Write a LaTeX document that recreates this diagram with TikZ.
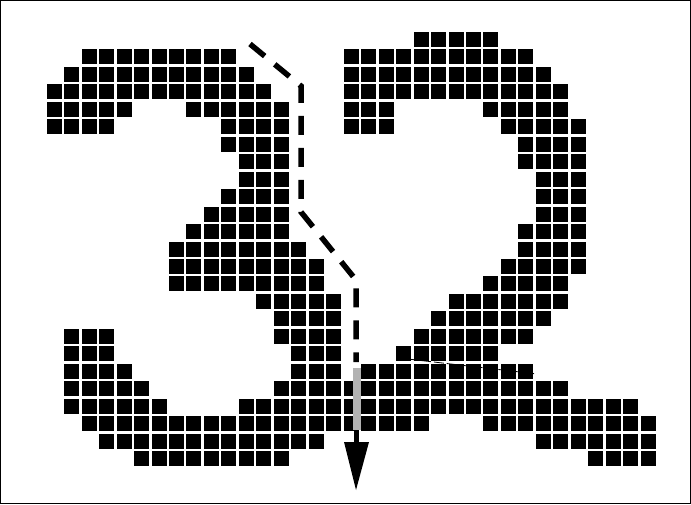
\documentclass[tikz,border=0pt]{standalone}
\begin{document}
\begin{tikzpicture}[x=1pt,y=-1pt,
  cellbox/.style={fill=black},
  cutpath/.style={draw=black,line width=5.5pt,dash pattern=on 19pt off 13pt,miter limit=10},
  greybar/.style={fill=black!30},
  thinline/.style={draw=black,line width=0.8pt,dash pattern=on 10pt off 3pt}]
\useasboundingbox (0,0) rectangle (691,504);
\draw[line width=1pt] (0.5,0.5) rectangle (690.5,503.5);
% pixel cells: row/first column/last column
\foreach \r/\a/\b in {
 1/2/10, 2/1/11, 3/0/12, 4/0/4, 4/8/13, 5/0/3, 5/10/13, 6/10/13, 7/11/13, 8/11/13,
 9/10/13, 10/9/13, 11/8/13, 12/7/14, 13/7/15, 14/7/15, 15/12/16, 16/13/16,
 17/1/3, 17/13/16, 18/1/3, 18/14/16, 19/1/4, 19/14/16, 20/1/5, 20/13/29,
 21/1/6, 21/11/33, 22/2/21, 22/25/34, 23/3/15, 23/28/34, 24/5/13, 24/31/34,
 0/21/25, 1/17/27, 2/17/28, 3/17/29, 4/17/19, 4/25/29, 5/17/19, 5/26/30,
 6/27/30, 7/27/30, 8/28/30, 9/28/30, 10/28/30, 11/27/30, 12/27/30, 13/26/30,
 14/25/29, 15/23/29, 16/22/28, 17/21/27, 18/20/25, 19/18/27}{
  \foreach \c in {\a,...,\b}{
    \fill[cellbox] ({46.7+17.47*\c},{32+17.46*\r}) rectangle ++(15,15);
  }
}
% thin line across the 2
\coordinate (t1) at (408,359);
\coordinate (t2) at (537,374);
\draw[thinline] (t1) -- (t2);
% dashed cut path
\coordinate (p0) at (250,44);
\coordinate (p1) at (301,86);
\coordinate (p2) at (301,212);
\coordinate (p3) at (356,280);
\coordinate (p4) at (356,362);
\draw[cutpath] (p0) -- (p1) -- (p2) -- (p3) -- (p4);
% grey bar and arrow
\fill[greybar] (352.7,368) rectangle (360.7,430);
\coordinate (a0) at (356,430);
\coordinate (a1) at (356,443);
\draw[line width=5pt] (a0) -- (a1);
\fill[black] (344,442) -- (369,442) -- (356,490) -- cycle;
\end{tikzpicture}
\end{document}
